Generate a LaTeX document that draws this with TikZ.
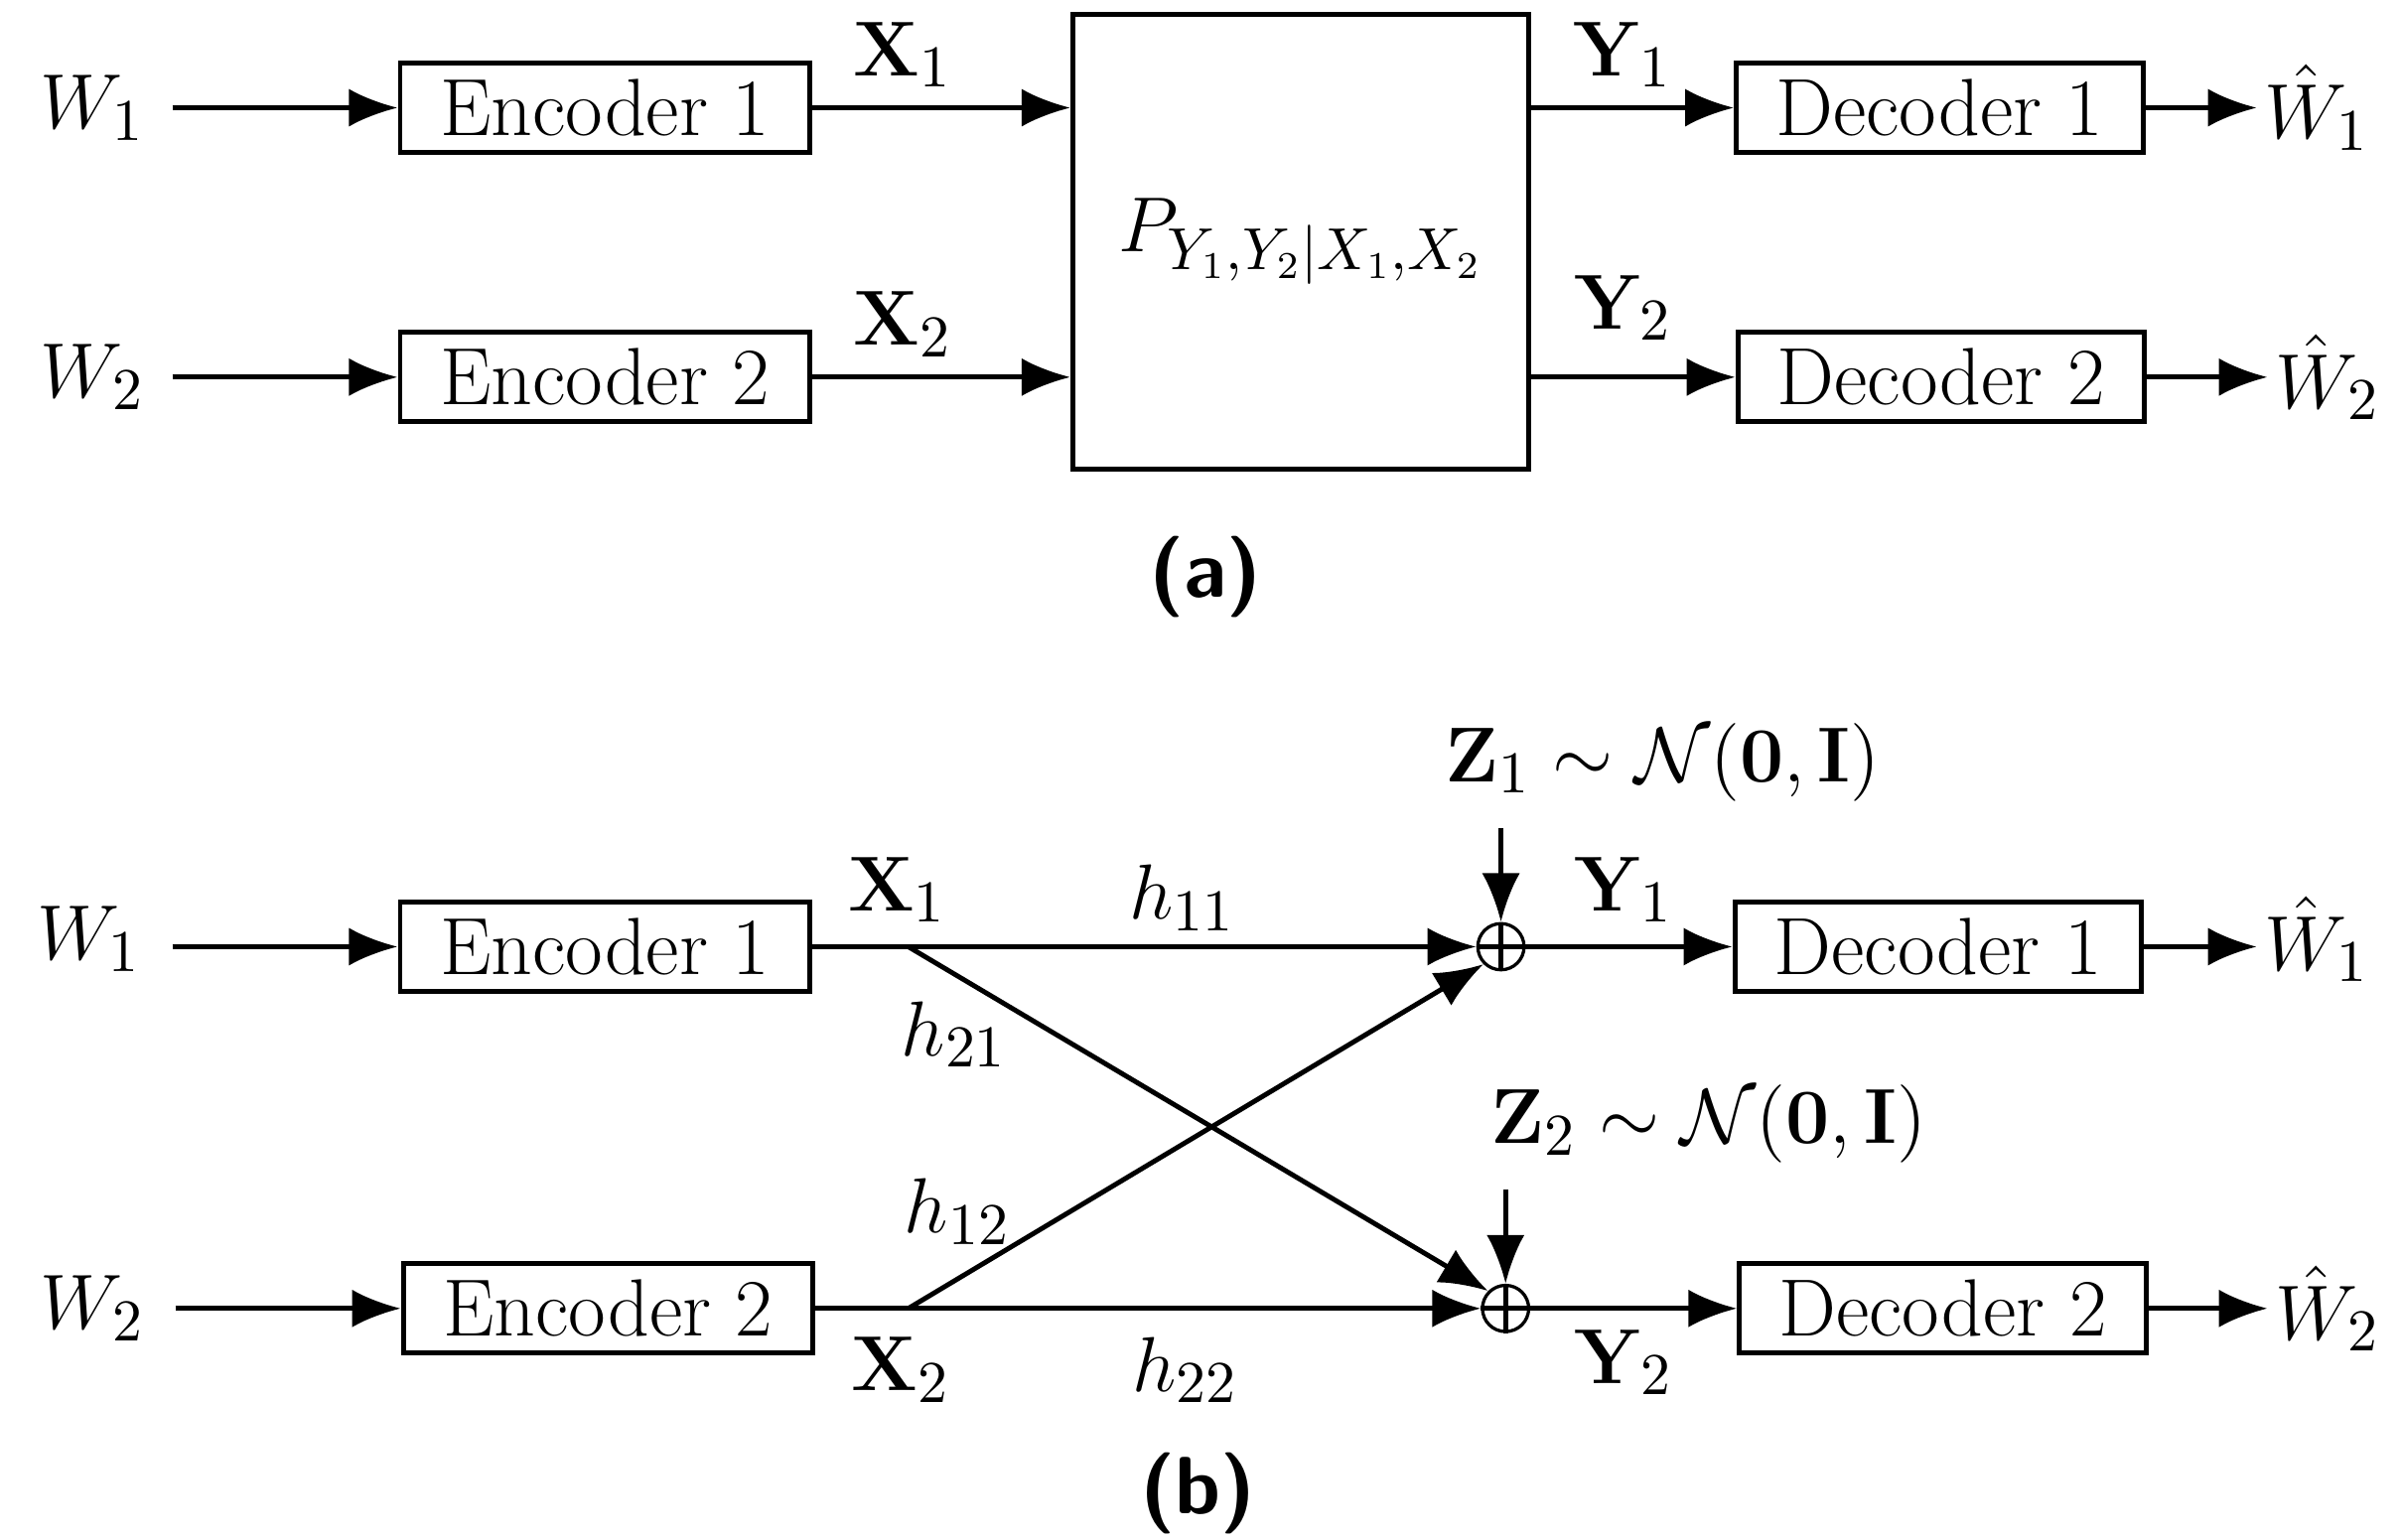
\documentclass[tikz,border=0pt]{standalone}
\usepackage{amsmath,amssymb}
\usetikzlibrary{positioning,arrows.meta}
\begin{document}
\begin{tikzpicture}[x=0.01cm,y=-0.01cm,line width=0.9pt,
    font=\fontsize{15}{18}\selectfont,
    block/.style={draw,rectangle,minimum height=0.58cm,inner sep=0pt},
    enc/.style={block,minimum width=2.66cm},
    sum/.style={draw,circle,inner sep=0pt,minimum size=0.3cm,line width=0.6pt,
      append after command={[line width=0.6pt]
        (\tikzlastnode.north) edge[-] (\tikzlastnode.south)
        (\tikzlastnode.west) edge[-] (\tikzlastnode.east)}},
    arr/.style={-{Latex[length=9pt,width=7pt]}},
    subcap/.style={font=\sffamily\bfseries\fontsize{15}{18}\selectfont}]
\useasboundingbox (0,0) rectangle (1559,1000);
% (a)
\node (wa1) at (60,70) {$W_1$};
\node (wa2) at (60,245) {$W_2$};
\node[enc] (ea1) at (393,70) {Encoder 1};
\node[enc] (ea2) at (393,245) {Encoder 2};
\node[block,minimum width=2.96cm,minimum height=2.95cm] (ch) at (845,157) {$P_{Y_1,Y_2|X_1,X_2}$};
\node[enc,minimum width=2.64cm] (da1) at (1260,70) {Decoder 1};
\node[enc,minimum width=2.64cm] (da2) at (1261,245) {Decoder 2};
\node[inner sep=1pt] (va1) at (1505,70) {$\hat W_1$};
\node[inner sep=1pt] (va2) at (1512,245) {$\hat W_2$};
\draw[arr] (112,70) -- (ea1.west);
\draw[arr] (112,245) -- (ea2.west);
\draw[arr] (ea1.east) -- (ch.west |- ea1) node[pos=0.35,above] {$\mathbf{X}_1$};
\draw[arr] (ea2.east) -- (ch.west |- ea2) node[pos=0.35,above] {$\mathbf{X}_2$};
\draw[arr] (ch.east |- da1) -- (da1.west) node[pos=0.45,above] {$\mathbf{Y}_1$};
\draw[arr] (ch.east |- da2) -- (da2.west) node[pos=0.45,above=3pt] {$\mathbf{Y}_2$};
\draw[arr] (da1.east) -- (va1.west |- da1);
\draw[arr] (da2.east) -- (va2.west |- da2);
\node[subcap] (capa) at (783,375) {(a)};
% (b)
\node (wb1) at (58,610) {$W_1$};
\node (wb2) at (60,850) {$W_2$};
\node[enc] (eb1) at (393,615) {Encoder 1};
\node[enc] (eb2) at (395,850) {Encoder 2};
\node[sum] (s1) at (975,615) {};
\node[sum] (s2) at (978,850) {};
\node[enc,minimum width=2.64cm] (db1) at (1259,615) {Decoder 1};
\node[enc,minimum width=2.64cm] (db2) at (1262,850) {Decoder 2};
\node[inner sep=1pt] (vb1) at (1505,610) {$\hat W_1$};
\node[inner sep=1pt] (vb2) at (1512,850) {$\hat W_2$};
\coordinate (x1) at (590,615);
\coordinate (x2) at (590,850);
\coordinate (z1) at (975,538);
\coordinate (z2) at (978,773);
\draw[arr] (112,615) -- (eb1.west);
\draw[arr] (114,850) -- (eb2.west);
\draw[arr] (eb1.east) -- (s1.west);
\draw[arr] (eb2.east) -- (s2.west);
\draw[arr] (x1) -- (s2.north west);
\draw[arr] (x2) -- (s1.south west);
\draw[arr] (z1) -- (s1.north);
\draw[arr] (z2) -- (s2.north);
\draw[arr] (s1.east) -- (db1.west);
\draw[arr] (s2.east) -- (db2.west);
\draw[arr] (db1.east) -- (vb1.west |- db1);
\draw[arr] (db2.east) -- (vb2.west |- db2);
\node at (583,578) {$\mathbf{X}_1$};
\node at (585,890) {$\mathbf{X}_2$};
\node at (768,583) {$h_{11}$};
\node at (620,672) {$h_{21}$};
\node at (622,787) {$h_{12}$};
\node at (770,890) {$h_{22}$};
\node at (1080,495) {$\mathbf{Z}_1\sim\mathcal{N}(\mathbf{0},\mathbf{I})$};
\node at (1110,730) {$\mathbf{Z}_2\sim\mathcal{N}(\mathbf{0},\mathbf{I})$};
\node at (1055,578) {$\mathbf{Y}_1$};
\node at (1055,885) {$\mathbf{Y}_2$};
\node[subcap] (capb) at (778,970) {(b)};
\end{tikzpicture}
\end{document}
